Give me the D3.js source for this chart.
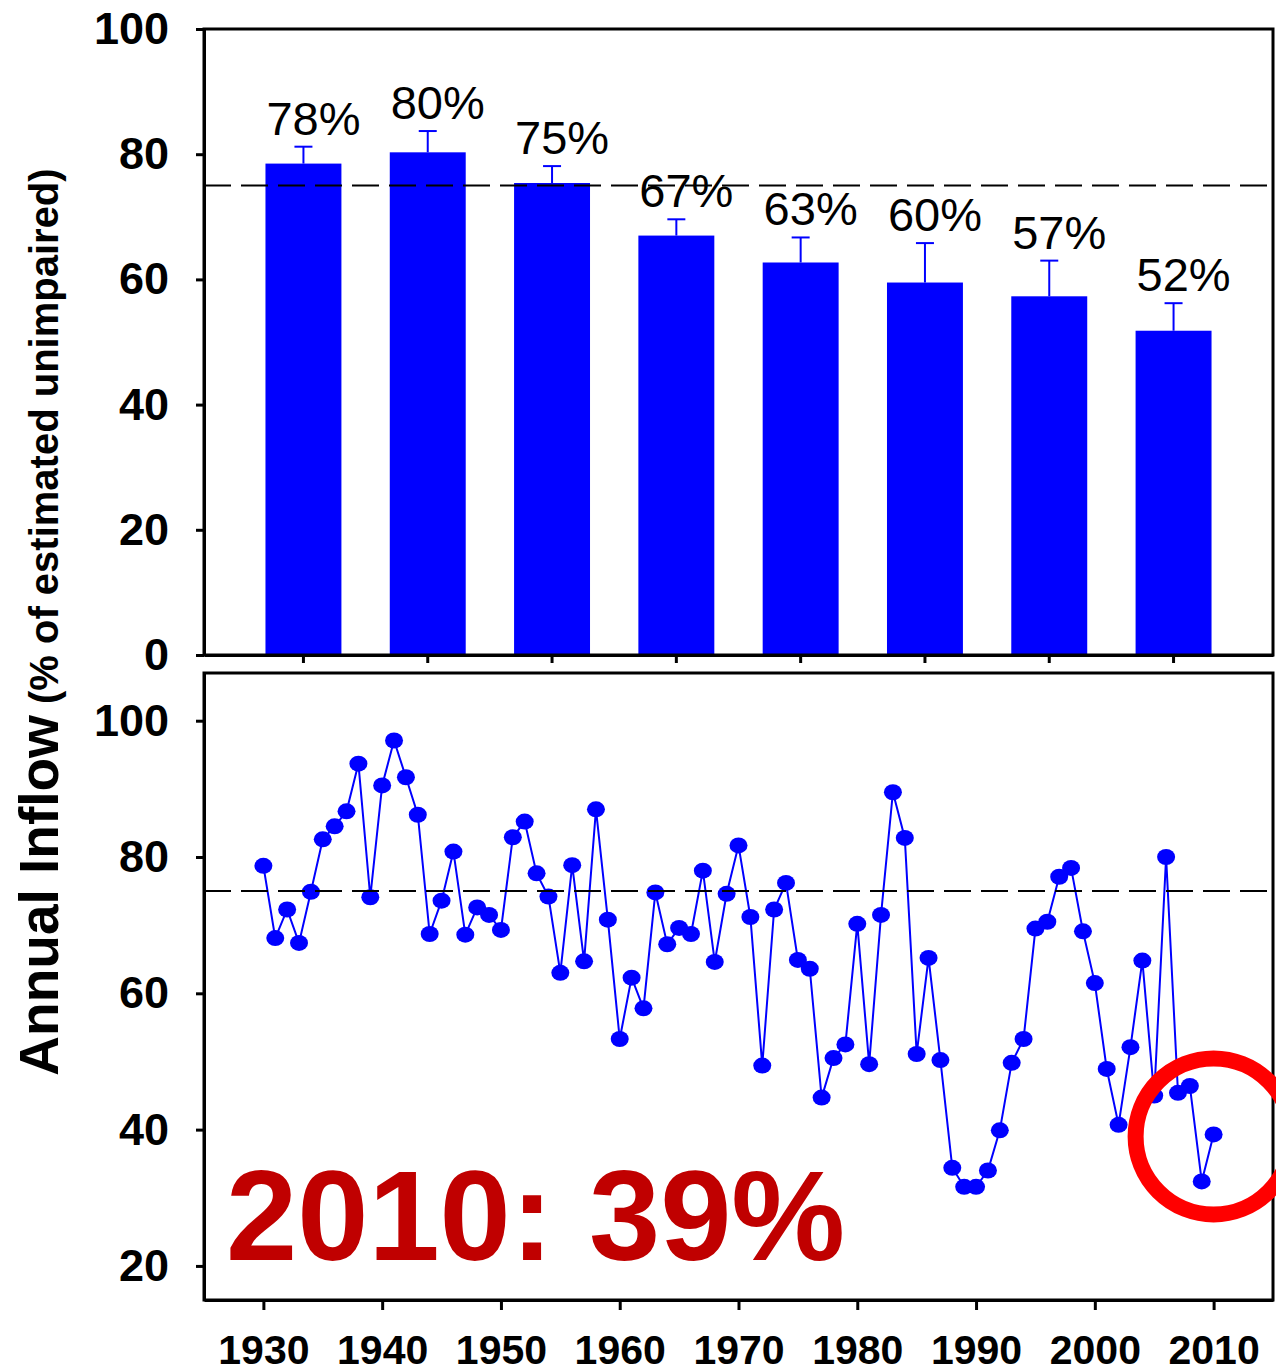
<!DOCTYPE html>
<html>
<head>
<meta charset="utf-8">
<script src="https://cdn.jsdelivr.net/npm/d3@7"></script>
<style>
  html, body { margin: 0; padding: 0; background: #fff; }
  svg { display: block; }
</style>
</head>
<body>
<svg id="chart" width="1276" height="1372"></svg>
<script>
// ---------- DATA ----------
const decades = ["1930s", "1940s", "1950s", "1960s", "1970s", "1980s", "1990s", "2000s"];
const decadeMeans = [78.5, 80.3, 75.4, 67.0, 62.7, 59.5, 57.3, 51.8];
const decadeErrTop = [81.2, 83.7, 78.1, 69.6, 66.7, 65.8, 63.0, 56.2];
const decadeLabels = ["78%", "80%", "75%", "67%", "63%", "60%", "57%", "52%"];

const years = d3.range(1930, 2011);
const annualInflow = [
  78.7, 68.1, 72.3, 67.4, 74.9, 82.6, 84.5, 86.7, 93.7, 74.1,
  90.5, 97.1, 91.7, 86.2, 68.7, 73.6, 80.8, 68.6, 72.6, 71.5,
  69.3, 82.9, 85.2, 77.6, 74.2, 63.0, 78.8, 64.7, 87.0, 70.8,
  53.3, 62.3, 57.8, 74.8, 67.2, 69.6, 68.7, 78.0, 64.6, 74.6,
  81.7, 71.2, 49.4, 72.3, 76.2, 64.9, 63.6, 44.7, 50.5, 52.5,
  70.2, 49.6, 71.5, 89.5, 82.8, 51.1, 65.2, 50.2, 34.4, 31.6,
  31.6, 34.0, 39.9, 49.8, 53.3, 69.5, 70.5, 77.1, 78.4, 69.1,
  61.5, 48.9, 40.7, 52.1, 64.8, 45.0, 80.0, 45.4, 46.4, 32.4,
  39.3
];
const referenceLevel = 75;
const topTicks = [0, 20, 40, 60, 80, 100];
const bottomTicks = [20, 40, 60, 80, 100];
const yearTicks = [1930, 1940, 1950, 1960, 1970, 1980, 1990, 2000, 2010];
const highlightYear = 2010;
const highlightText = "2010: 39%";
const titleMain = "Annual Inflow";
const titleSub = " (% of estimated unimpaired)";

// ---------- LAYOUT ----------
const FONT = "'Liberation Sans', Arial, Helvetica, sans-serif";
const left = 204, right = 1273;
const topPanel = { top: 29, bottom: 655 };
const botPanel = { top: 673, bottom: 1300 };

const svg = d3.select("#chart");

const xBand = d3.scaleBand().domain(decades).range([left, right])
  .paddingInner(0.389).paddingOuter(0.4945);
const yTop = d3.scaleLinear().domain([0, 100]).range([topPanel.bottom, topPanel.top]);
const xYear = d3.scaleLinear().domain([1925, 2015]).range([left, right]);
const yBot = d3.scaleLinear().domain([15, 107]).range([botPanel.bottom, botPanel.top]);

// ---------- TOP PANEL ----------
const gTop = svg.append("g");

gTop.selectAll("rect.bar").data(decades).join("rect")
  .attr("class", "bar")
  .attr("x", d => xBand(d))
  .attr("width", xBand.bandwidth())
  .attr("y", (d, i) => yTop(decadeMeans[i]))
  .attr("height", (d, i) => yTop(0) - yTop(decadeMeans[i]))
  .attr("fill", "#0000ff");

// error bars
const capW = 18;
gTop.selectAll("line.err").data(decades).join("line")
  .attr("x1", d => xBand(d) + xBand.bandwidth() / 2)
  .attr("x2", d => xBand(d) + xBand.bandwidth() / 2)
  .attr("y1", (d, i) => yTop(decadeMeans[i]))
  .attr("y2", (d, i) => yTop(decadeErrTop[i]))
  .attr("stroke", "#0000ff").attr("stroke-width", 2);
gTop.selectAll("line.cap").data(decades).join("line")
  .attr("x1", d => xBand(d) + xBand.bandwidth() / 2 - capW / 2)
  .attr("x2", d => xBand(d) + xBand.bandwidth() / 2 + capW / 2)
  .attr("y1", (d, i) => yTop(decadeErrTop[i]))
  .attr("y2", (d, i) => yTop(decadeErrTop[i]))
  .attr("stroke", "#0000ff").attr("stroke-width", 2);

// dashed reference
gTop.append("line")
  .attr("x1", left).attr("x2", right)
  .attr("y1", yTop(referenceLevel)).attr("y2", yTop(referenceLevel))
  .attr("stroke", "#000").attr("stroke-width", 2)
  .attr("stroke-dasharray", "27,10");

// value labels
gTop.selectAll("text.lbl").data(decades).join("text")
  .attr("x", d => xBand(d) + xBand.bandwidth() / 2 + 10)
  .attr("y", (d, i) => yTop(decadeErrTop[i]) - 12)
  .attr("text-anchor", "middle")
  .attr("font-family", FONT).attr("font-size", 47)
  .attr("fill", "#000")
  .text((d, i) => decadeLabels[i]);

// frame
gTop.append("rect")
  .attr("x", left).attr("y", topPanel.top)
  .attr("width", right - left).attr("height", topPanel.bottom - topPanel.top)
  .attr("fill", "none").attr("stroke", "#000").attr("stroke-width", 3);

// axes
const axTopY = gTop.append("g").attr("transform", `translate(${left},0)`)
  .call(d3.axisLeft(yTop).tickValues(topTicks).tickSize(8).tickPadding(27).tickSizeOuter(0));
const axTopX = gTop.append("g").attr("transform", `translate(0,${topPanel.bottom})`)
  .call(d3.axisBottom(xBand).tickSize(8).tickSizeOuter(0).tickFormat(""));

// ---------- BOTTOM PANEL ----------
const gBot = svg.append("g");

const line = d3.line().x((d, i) => xYear(years[i])).y(d => yBot(d));
gBot.append("path").datum(annualInflow)
  .attr("d", line)
  .attr("fill", "none").attr("stroke", "#0000ff").attr("stroke-width", 2);

gBot.selectAll("ellipse.pt").data(annualInflow).join("ellipse")
  .attr("cx", (d, i) => xYear(years[i]))
  .attr("cy", d => yBot(d))
  .attr("rx", 9).attr("ry", 8)
  .attr("fill", "#0000ff");

gBot.append("line")
  .attr("x1", left).attr("x2", right)
  .attr("y1", yBot(referenceLevel)).attr("y2", yBot(referenceLevel))
  .attr("stroke", "#000").attr("stroke-width", 2)
  .attr("stroke-dasharray", "27,10");

gBot.append("rect")
  .attr("x", left).attr("y", botPanel.top)
  .attr("width", right - left).attr("height", botPanel.bottom - botPanel.top)
  .attr("fill", "none").attr("stroke", "#000").attr("stroke-width", 3);

const axBotY = gBot.append("g").attr("transform", `translate(${left},0)`)
  .call(d3.axisLeft(yBot).tickValues(bottomTicks).tickSize(8).tickPadding(27).tickSizeOuter(0));
const axBotX = gBot.append("g").attr("transform", `translate(0,${botPanel.bottom})`)
  .call(d3.axisBottom(xYear).tickValues(yearTicks).tickFormat(d3.format("d"))
    .tickSize(10).tickPadding(25).tickSizeOuter(0));

// highlight circle
const hiIdx = years.indexOf(highlightYear);
gBot.append("circle")
  .attr("cx", xYear(highlightYear))
  .attr("cy", yBot(annualInflow[hiIdx]) + 2)
  .attr("r", 78)
  .attr("fill", "none").attr("stroke", "#ff0000").attr("stroke-width", 16);

// big annotation
gBot.append("text")
  .attr("x", 226).attr("y", 1260)
  .attr("font-family", FONT).attr("font-weight", "bold").attr("font-size", 128)
  .attr("fill", "#c00000")
  .text(highlightText);

// axis styling
svg.selectAll(".domain").attr("stroke", "#000").attr("stroke-width", 3);
svg.selectAll(".tick line").attr("stroke", "#000").attr("stroke-width", 3);
[axTopY, axBotY].forEach(a => a.selectAll("text")
  .attr("font-family", FONT).attr("font-weight", "bold").attr("font-size", 45).attr("fill", "#000"));
axBotX.selectAll("text")
  .attr("font-family", FONT).attr("font-weight", "bold").attr("font-size", 41).attr("fill", "#000");

// y title
svg.append("text")
  .attr("transform", "translate(58,622) rotate(-90)")
  .attr("text-anchor", "middle")
  .attr("font-family", FONT).attr("font-weight", "bold").attr("fill", "#000")
  .call(t => {
    t.append("tspan").attr("font-size", 55).text(titleMain);
    t.append("tspan").attr("font-size", 40).text(titleSub);
  });
</script>
</body>
</html>
